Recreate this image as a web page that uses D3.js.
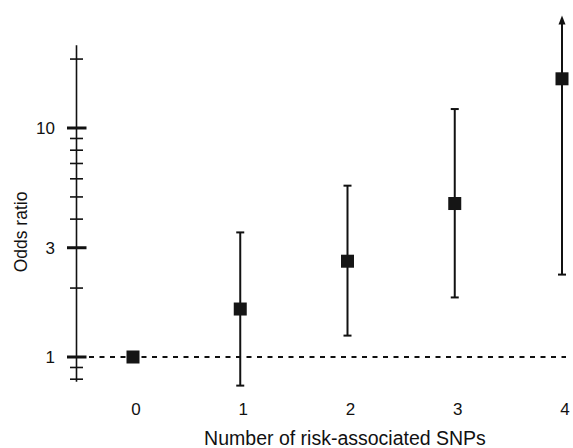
<!DOCTYPE html>
<html>
<head>
<meta charset="utf-8">
<script src="https://cdn.jsdelivr.net/npm/d3@7"></script>
<style>
  body { margin: 0; background: #fff; }
  text { font-family: "Liberation Sans", Arial, sans-serif; fill: #111; }
</style>
</head>
<body>
<svg id="chart" width="573" height="448"></svg>
<script>
// data
const snpCount = [0, 1, 2, 3, 4];
const oddsRatio = [1, 1.62, 2.62, 4.68, 16.4];
const ciLower = [null, 0.75, 1.24, 1.82, 2.29];
const ciUpper = [null, 3.5, 5.6, 12.1, 31];
const ciOpenTop = [false, false, false, false, true];

const majorTicks = [1, 3, 10];
const minorTicks = [0.8, 0.9, 2, 4, 5, 6, 7, 8, 9, 20];
const axisExtent = [0.78, 23];

const svg = d3.select("#chart");

// scales
const x = d3.scaleLinear().domain([0, 4]).range([133, 562]);
const y = d3.scaleLog().domain([1, 10]).range([357, 128]);
const axisX = 76.5;

const points = snpCount.map((d, i) => ({
    n: d, or: oddsRatio[i], lo: ciLower[i], hi: ciUpper[i], open: ciOpenTop[i]
}));

// y axis line
svg.append("line")
    .attr("x1", axisX).attr("x2", axisX)
    .attr("y1", y(axisExtent[0])).attr("y2", y(axisExtent[1]))
    .style("stroke", "#111").style("stroke-width", 1.6);

// minor ticks (both sides)
svg.selectAll("line.minor")
    .data(minorTicks)
    .join("line")
    .attr("class", "minor")
    .attr("x1", axisX - 6.5).attr("x2", axisX + 6.5)
    .attr("y1", d => y(d)).attr("y2", d => y(d))
    .style("stroke", "#111").style("stroke-width", 1.6);

// major ticks
svg.selectAll("line.major")
    .data(majorTicks)
    .join("line")
    .attr("class", "major")
    .attr("x1", axisX - 9.5).attr("x2", axisX + 10)
    .attr("y1", d => y(d)).attr("y2", d => y(d))
    .style("stroke", "#111").style("stroke-width", 3);

svg.selectAll("text.ylab")
    .data(majorTicks)
    .join("text")
    .attr("class", "ylab")
    .attr("x", 55)
    .attr("y", d => y(d))
    .attr("dy", "0.36em")
    .attr("text-anchor", "end")
    .style("font-size", "17px")
    .text(d => d);

// reference line at OR = 1
svg.append("line")
    .attr("x1", axisX + 2).attr("x2", 566)
    .attr("y1", y(1)).attr("y2", y(1))
    .style("stroke", "#111").style("stroke-width", 2)
    .style("stroke-dasharray", "5,5.5");

// error bars
const bars = points.filter(d => d.lo !== null);
svg.selectAll("line.ci")
    .data(bars)
    .join("line")
    .attr("class", "ci")
    .attr("x1", d => x(d.n)).attr("x2", d => x(d.n))
    .attr("y1", d => y(d.lo)).attr("y2", d => y(d.hi) + (d.open ? 6 : 0))
    .style("stroke", "#111").style("stroke-width", 2);

svg.selectAll("line.caplo")
    .data(bars)
    .join("line")
    .attr("class", "caplo")
    .attr("x1", d => x(d.n) - 4).attr("x2", d => x(d.n) + 4)
    .attr("y1", d => y(d.lo)).attr("y2", d => y(d.lo))
    .style("stroke", "#111").style("stroke-width", 2);

svg.selectAll("line.caphi")
    .data(bars.filter(d => !d.open))
    .join("line")
    .attr("class", "caphi")
    .attr("x1", d => x(d.n) - 4).attr("x2", d => x(d.n) + 4)
    .attr("y1", d => y(d.hi)).attr("y2", d => y(d.hi))
    .style("stroke", "#111").style("stroke-width", 2);

// arrowhead where the interval runs off the top
svg.selectAll("path.arrow")
    .data(bars.filter(d => d.open))
    .join("path")
    .attr("class", "arrow")
    .attr("d", d => {
        const cx = x(d.n), ty = y(d.hi);
        return `M${cx},${ty} L${cx - 3.5},${ty + 9} L${cx + 3.5},${ty + 9} Z`;
    })
    .style("fill", "#111");

// point estimates
const sq = 13;
svg.selectAll("rect.pt")
    .data(points)
    .join("rect")
    .attr("class", "pt")
    .attr("x", d => x(d.n) - sq / 2)
    .attr("y", d => y(d.or) - sq / 2)
    .attr("width", sq).attr("height", sq)
    .style("fill", "#151515");

// x tick labels
svg.selectAll("text.xlab")
    .data(snpCount)
    .join("text")
    .attr("class", "xlab")
    .attr("x", d => x(d) + 3)
    .attr("y", 415)
    .attr("text-anchor", "middle")
    .style("font-size", "17px")
    .text(d => d);

// titles
svg.append("text")
    .attr("x", 345).attr("y", 445)
    .attr("text-anchor", "middle")
    .style("font-size", "19.5px")
    .text("Number of risk-associated SNPs");

svg.append("text")
    .attr("transform", "translate(27,232) rotate(-90)")
    .attr("text-anchor", "middle")
    .style("font-size", "17.5px")
    .text("Odds ratio");
</script>
</body>
</html>
